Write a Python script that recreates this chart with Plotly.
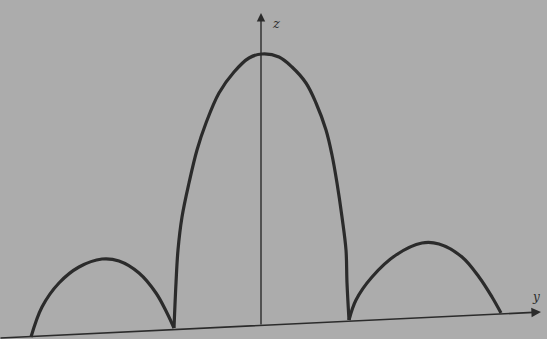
import plotly.graph_objects as go

# Diffraction-style lobes, y horizontal, z vertical (origin at the foot of the z axis)
left_y = [-230, -219, -202, -182, -159, -142, -122, -105, -94, -87]
left_z = [2, 32, 56, 72, 80, 78, 66, 46, 26, 11]

main_y = [-87, -85, -83, -79, -72, -64, -55, -42, -27, -12, 1, 18, 31,
          45, 55, 65, 71, 76, 81, 85, 86, 88]
main_z = [11, 56, 89, 122, 156, 189, 216, 246, 267, 281, 285, 282, 272,
          256, 236, 209, 184, 156, 122, 89, 56, 19]

right_y = [88, 95, 111, 135, 161, 178, 201, 218, 231, 240]
right_z = [19, 39, 62, 84, 96, 95, 82, 62, 42, 26]

# Horizontal (y) axis, slightly sloped, and the vertical (z) axis
y_axis_start = (-262, 1)
y_axis_end = (280, 27)
z_axis_start = (0, 13)
z_axis_end = (0, 326)

ink = "#2b2b2b"
fig = go.Figure()
for ys, zs in [(left_y, left_z), (main_y, main_z), (right_y, right_z)]:
    fig.add_trace(go.Scatter(x=ys, y=zs, mode="lines",
                             line=dict(color=ink, width=3.2, shape="spline", smoothing=1.0),
                             hoverinfo="skip", showlegend=False))

# axes drawn as arrows
fig.add_annotation(x=y_axis_end[0], y=y_axis_end[1], ax=y_axis_start[0], ay=y_axis_start[1],
                   xref="x", yref="y", axref="x", ayref="y", text="",
                   showarrow=True, arrowhead=2, arrowsize=1.2, arrowwidth=1.6, arrowcolor=ink)
fig.add_annotation(x=z_axis_end[0], y=z_axis_end[1], ax=z_axis_start[0], ay=z_axis_start[1],
                   xref="x", yref="y", axref="x", ayref="y", text="",
                   showarrow=True, arrowhead=2, arrowsize=1.2, arrowwidth=1.4, arrowcolor=ink)

fig.add_annotation(x=15, y=316, text="z", showarrow=False,
                   font=dict(family="DejaVu Serif", size=13, color=ink, style="italic"))
fig.add_annotation(x=275, y=42, text="y", showarrow=False,
                   font=dict(family="DejaVu Serif", size=12, color=ink, style="italic"))

fig.update_layout(
    width=547, height=339,
    margin=dict(l=0, r=0, t=0, b=0),
    paper_bgcolor="#acacac", plot_bgcolor="#acacac",
    xaxis=dict(range=[-261, 286], visible=False, fixedrange=True),
    yaxis=dict(range=[0, 339], visible=False, fixedrange=True),
)

fig.write_html("out.html")
